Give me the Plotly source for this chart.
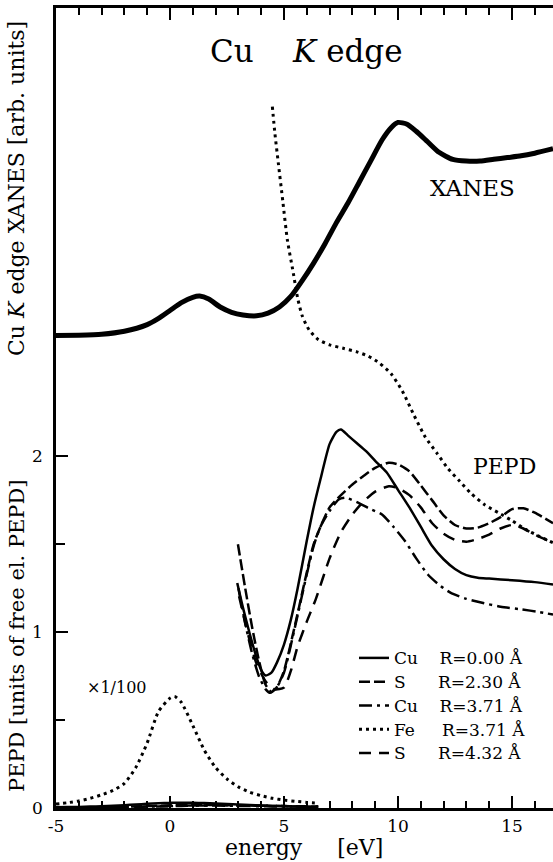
import plotly.graph_objects as go

W, H = 553, 862
ML, MR, MT, MB = 56, 0, 8, 54
X_RANGE = [-5, 16.8]
Y_RANGE = [0, 4.551]
FONT = "DejaVu Serif"

# ---------------- data ----------------
xanes_x = [-5, -4, -3, -2, -1, -0.5, 0, 0.5, 1, 1.3, 1.7, 2.2, 2.7, 3.2, 3.8, 4.3, 4.8, 5.3, 5.8,
           6.3, 6.8, 7.3, 7.8, 8.3, 8.8, 9.3, 9.7, 10.0, 10.4, 10.8, 11.3, 11.8, 12.4, 13.0, 13.6,
           14.2, 14.8, 15.4, 16.0, 16.8]
xanes_y = [2.688, 2.690, 2.695, 2.712, 2.75, 2.785, 2.83, 2.875, 2.905, 2.912, 2.895, 2.85, 2.82,
           2.805, 2.80, 2.815, 2.85, 2.91, 3.00, 3.10, 3.21, 3.33, 3.44, 3.56, 3.68, 3.80, 3.87,
           3.90, 3.89, 3.85, 3.79, 3.73, 3.69, 3.68, 3.68, 3.69, 3.70, 3.71, 3.725, 3.75]

cu000_x = [2.95, 3.2, 3.5, 3.8, 4.0, 4.2, 4.45, 4.7, 5.0, 5.3, 5.6, 6.0, 6.3, 6.6, 7.0, 7.3, 7.5,
           7.8, 8.2, 8.6, 9.0, 9.5, 10.0, 10.5, 11.0, 11.5, 12.0, 12.5, 13.0, 13.5, 14.0, 15.0,
           16.0, 16.8]
cu000_y = [1.28, 1.14, 0.99, 0.855, 0.785, 0.754, 0.77, 0.83, 0.93, 1.07, 1.25, 1.52, 1.71, 1.87,
           2.07, 2.14, 2.153, 2.12, 2.075, 2.03, 1.975, 1.91, 1.81, 1.71, 1.60, 1.49, 1.415, 1.36,
           1.325, 1.31, 1.305, 1.296, 1.285, 1.271]

s230_x = [2.98, 3.3, 3.6, 3.9, 4.2, 4.45, 4.7, 5.0, 5.5, 6.0, 6.3, 6.6, 7.0, 7.5, 8.0, 8.5, 9.0,
          9.6, 10.0, 10.5, 11.0, 11.5, 12.0, 12.5, 13.0, 13.5, 14.0, 14.5, 15.0, 15.5, 16.0, 16.8]
s230_y = [1.50, 1.25, 1.03, 0.84, 0.70, 0.66, 0.69, 0.78, 1.05, 1.34, 1.50, 1.60, 1.71, 1.78,
          1.84, 1.89, 1.935, 1.964, 1.955, 1.915, 1.835, 1.75, 1.665, 1.61, 1.59, 1.595, 1.62,
          1.655, 1.70, 1.705, 1.68, 1.62]

cu371_x = [3.0, 3.3, 3.6, 3.9, 4.2, 4.4, 4.7, 5.0, 5.5, 6.0, 6.3, 6.6, 7.0, 7.4, 7.7, 8.2, 8.8,
           9.3, 9.8, 10.3, 10.8, 11.3, 11.8, 12.3, 13.0, 13.6, 14.5, 15.4, 16.2, 16.8]
cu371_y = [1.25, 1.05, 0.88, 0.75, 0.675, 0.655, 0.69, 0.77, 1.04, 1.33, 1.49, 1.60, 1.69,
           1.755, 1.765, 1.74, 1.70, 1.67, 1.60, 1.52, 1.42, 1.33, 1.27, 1.225, 1.19, 1.17,
           1.145, 1.13, 1.115, 1.10]

fe371_x = [4.49, 4.6, 4.75, 4.95, 5.15, 5.4, 5.6, 5.8, 6.1, 6.5, 7.0, 7.6, 8.2, 8.7, 9.2, 9.7,
           10.2, 10.7, 11.2, 11.7, 12.2, 12.7, 13.2, 13.8, 14.4, 15.0, 15.6, 16.2, 16.8]
fe371_y = [3.99, 3.84, 3.67, 3.45, 3.23, 3.05, 2.90, 2.80, 2.72, 2.665, 2.635, 2.615, 2.595,
           2.57, 2.53, 2.47, 2.37, 2.235, 2.11, 2.02, 1.93, 1.86, 1.79, 1.725, 1.68, 1.635,
           1.585, 1.545, 1.509]

s432_x = [3.03, 3.4, 3.8, 4.2, 4.6, 5.0, 5.3, 5.6, 6.0, 6.4, 7.0, 7.5, 8.0, 8.5, 9.0, 9.6, 10.0,
          10.5, 11.0, 11.5, 12.0, 12.5, 13.0, 13.5, 14.0, 14.5, 15.0, 15.5, 16.0, 16.8]
s432_y = [1.205, 1.0, 0.82, 0.72, 0.675, 0.685, 0.78, 0.92, 1.06, 1.19, 1.42, 1.57, 1.67, 1.745,
          1.80, 1.83, 1.82, 1.78, 1.71, 1.62, 1.56, 1.525, 1.515, 1.53, 1.555, 1.59, 1.61, 1.59,
          1.555, 1.509]

# low-energy part, scaled x1/100
small_x = [-5, -4.5, -4, -3.5, -3, -2.5, -2, -1.5, -1, -0.5, 0, 0.2, 0.5, 1, 1.5, 2, 2.5, 3,
           3.5, 4, 4.5, 5, 5.5, 6, 6.5]
fe_small_y = [0.022, 0.03, 0.04, 0.055, 0.075, 0.10, 0.14, 0.23, 0.37, 0.55, 0.625, 0.635, 0.60,
              0.47, 0.33, 0.23, 0.165, 0.12, 0.09, 0.07, 0.055, 0.045, 0.038, 0.032, 0.028]
cu000_small_y = [0.004, 0.005, 0.006, 0.008, 0.010, 0.013, 0.016, 0.020, 0.024, 0.027, 0.029,
                 0.030, 0.030, 0.030, 0.028, 0.026, 0.023, 0.020, 0.017, 0.014, 0.012, 0.010,
                 0.008, 0.007, 0.006]
s230_small_y = [0.002, 0.003, 0.003, 0.004, 0.005, 0.006, 0.007, 0.009, 0.011, 0.013, 0.015,
                0.016, 0.017, 0.018, 0.018, 0.017, 0.016, 0.015, 0.014, 0.013, 0.012, 0.011,
                0.010, 0.009, 0.008]
cu371_small_y = [0.001, 0.002, 0.002, 0.003, 0.004, 0.005, 0.006, 0.007, 0.008, 0.010, 0.011,
                 0.012, 0.013, 0.014, 0.014, 0.014, 0.013, 0.012, 0.011, 0.010, 0.009, 0.008,
                 0.008, 0.007, 0.006]
s432_small_y = [0.002, 0.002, 0.003, 0.003, 0.004, 0.005, 0.006, 0.007, 0.008, 0.009, 0.010,
                0.011, 0.012, 0.013, 0.014, 0.015, 0.015, 0.015, 0.014, 0.013, 0.012, 0.011,
                0.010, 0.009, 0.008]

NB = "\u00a0"
legend_labels = ["Cu" + NB * 4 + "R=0.00 Å", "S" + NB * 6 + "R=2.30 Å",
                 "Cu" + NB * 4 + "R=3.71 Å", "Fe" + NB * 5 + "R=3.71 Å",
                 "S" + NB * 6 + "R=4.32 Å"]

# ---------------- styles ----------------
DASH_S230 = "11px,4px"
DASH_S432 = "12px,8px"
DASH_CU371 = "13px,5px,3px,5px"
DASH_FE = "3px,4px"

fig = go.Figure()


def add(x, y, dash, width, name=None, show=False):
    fig.add_trace(go.Scatter(
        x=x, y=y, mode="lines",
        line=dict(color="black", width=width, dash=dash, shape="spline", smoothing=0.6),
        name=name if name else "", showlegend=show, hoverinfo="skip"))


add(xanes_x, xanes_y, "solid", 5)
add(small_x, cu000_small_y, "solid", 2.5)
add(small_x, s230_small_y, DASH_S230, 2.5)
add(small_x, cu371_small_y, DASH_CU371, 2.5)
add(small_x, s432_small_y, DASH_S432, 2.5)
add(small_x, fe_small_y, DASH_FE, 3)

lab = ['<span style="font-size:17px">%s</span>' % t for t in legend_labels]
add(cu000_x, cu000_y, "solid", 2.5, lab[0], True)
add(s230_x, s230_y, DASH_S230, 2.5, lab[1], True)
add(cu371_x, cu371_y, DASH_CU371, 2.5, lab[2], True)
add(fe371_x, fe371_y, DASH_FE, 3, lab[3], True)
add(s432_x, s432_y, DASH_S432, 2.5, lab[4], True)

PW = W - ML - MR
PH = H - MT - MB


def px(xp):
    return (xp - ML) / PW


def py(yp):
    return (H - MB - yp) / PH


def ann(text, xp, yp, size, angle=0, xanchor="center", family=FONT):
    fig.add_annotation(text=text, x=px(xp), y=py(yp), xref="paper", yref="paper",
                       xanchor=xanchor, yanchor="middle", showarrow=False, textangle=angle,
                       font=dict(family=family, size=size, color="black"))


ann("Cu" + NB * 4 + "<i>K</i> edge", 208, 51, 31, xanchor="left")
ann("XANES", 472, 188, 23)
ann("PEPD", 504, 466, 22)
ann("×1/100", 116.5, 687, 16)
ann("Cu <i>K</i> edge XANES [arb. units]", 17, 189, 22, angle=-90)
ann("PEPD [units of free el. PEPD]", 17, 636, 21, angle=-90)
ann("energy" + NB * 5 + "[eV]", 304, 847, 22)

fig.update_layout(
    width=W, height=H,
    margin=dict(l=ML, r=MR, t=MT, b=MB, pad=0),
    paper_bgcolor="white", plot_bgcolor="white",
    font=dict(family=FONT, color="black"),
    legend=dict(x=px(354), y=py(641), xanchor="left", yanchor="top",
                bgcolor="rgba(0,0,0,0)", borderwidth=0,
                font=dict(family=FONT, size=16, color="black"),
                itemwidth=30, tracegroupgap=0),
    xaxis=dict(range=X_RANGE, tickmode="array", tickvals=[-5, 0, 5, 10, 15],
               ticktext=["-5", "0", "5", "10", "15"],
               ticks="inside", ticklen=12, tickwidth=2, tickcolor="black",
               showline=True, linewidth=2.5, linecolor="black", mirror="ticks",
               showgrid=False, zeroline=False,
               tickfont=dict(family=FONT, size=17, color="black"),
               ticklabelstandoff=1,
               minor=dict(tickmode="linear", tick0=0, dtick=1, ticks="inside", ticklen=7,
                          tickwidth=2, tickcolor="black", showgrid=False)),
    yaxis=dict(range=Y_RANGE, tickmode="array", tickvals=[0, 1, 2], ticktext=["0", "1", "2"],
               ticks="inside", ticklen=12, tickwidth=2, tickcolor="black",
               showline=True, linewidth=2.5, linecolor="black", mirror=False,
               showgrid=False, zeroline=False,
               tickfont=dict(family=FONT, size=17, color="black"),
               ticklabelstandoff=7,
               minor=dict(tickmode="array", tickvals=[0.5, 1.5], ticks="inside", ticklen=9,
                          tickwidth=2, tickcolor="black", showgrid=False)),
)

fig.write_html("out.html")
